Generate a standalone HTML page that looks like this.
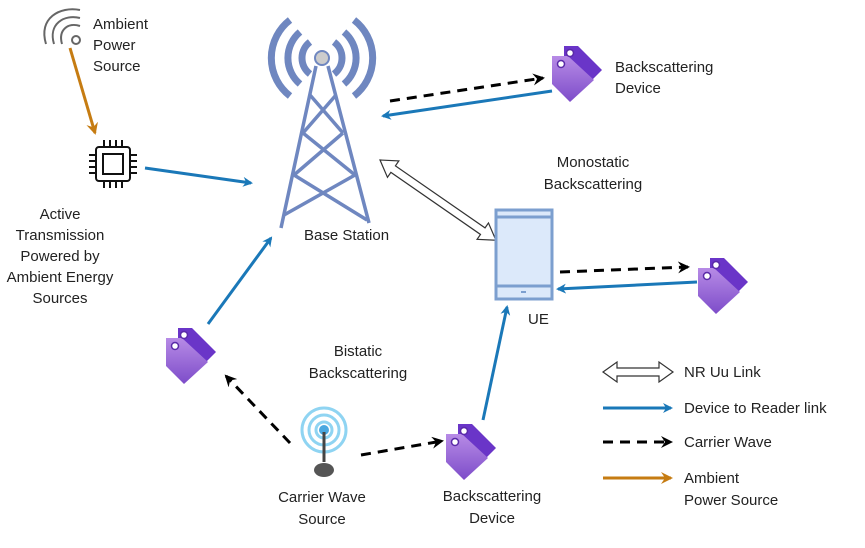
<!DOCTYPE html>
<html><head><meta charset="utf-8"><style>
body{margin:0;background:#fff}
svg{display:block}
text{font-family:"Liberation Sans",Arial,sans-serif;font-size:15px;fill:#222}
</style></head><body>
<svg width="865" height="548" viewBox="0 0 865 548">
<defs>
<marker id="b" markerWidth="10" markerHeight="10" refX="8" refY="5" orient="auto" markerUnits="userSpaceOnUse"><path d="M0,0 L10,5 L0,10 L3,5z" fill="#1a78b8"/></marker>
<marker id="k" markerWidth="12" markerHeight="12" refX="10" refY="6" orient="auto" markerUnits="userSpaceOnUse"><path d="M0,0 L12,6 L0,12 L4,6z" fill="#000"/></marker>
<marker id="o" markerWidth="12" markerHeight="12" refX="10" refY="6" orient="auto" markerUnits="userSpaceOnUse"><path d="M0,0 L12,6 L0,12 L4,6z" fill="#c67c12"/></marker>
<linearGradient id="tg" x1="0" y1="0" x2="0" y2="1"><stop offset="0" stop-color="#b78be6"/><stop offset="1" stop-color="#7d4cc9"/></linearGradient>
<g id="tag">
<path d="M-12,-24 L2,-24 L26,0 L4,22 L-12,6 Z" fill="#6a35c8"/>
<path d="M-24,-14 L-8,-14 L18,10 L-6,32 L-24,14 Z" fill="url(#tg)"/>
<circle cx="-6" cy="-17" r="3.5" fill="#fff" stroke="#5a2aa8" stroke-width="1.5"/>
<circle cx="-15" cy="-6" r="3.5" fill="#fff" stroke="#5a2aa8" stroke-width="1.5"/>
</g>
</defs>

<!-- ambient power icon -->
<g fill="none" stroke="#666" stroke-width="2">
<circle cx="76" cy="40" r="4"/>
<path d="M62,44 C58,30 68,22 80,26"/>
<path d="M54,44 C48,24 64,14 80,18"/>
<path d="M46,44 C38,18 60,6 80,10"/>
</g>
<text x="93" y="29">Ambient</text><text x="93" y="50">Power</text><text x="93" y="71">Source</text>
<line x1="70" y1="48" x2="95" y2="133" stroke="#c67c12" stroke-width="3" marker-end="url(#o)"/>

<!-- chip -->
<g stroke="#111" stroke-width="2" fill="none">
<rect x="96" y="147" width="34" height="34" rx="3"/>
<rect x="103" y="154" width="20" height="20"/>
<path d="M104,140v7M110,140v7M116,140v7M122,140v7M104,181v7M110,181v7M116,181v7M122,181v7M89,155h7M89,161h7M89,167h7M89,173h7M130,155h7M130,161h7M130,167h7M130,173h7"/>
</g>
<g text-anchor="middle"><text x="60" y="219">Active</text><text x="60" y="240">Transmission</text><text x="60" y="261">Powered by</text><text x="60" y="282">Ambient Energy</text><text x="60" y="303">Sources</text></g>
<line x1="145" y1="168" x2="251" y2="183" stroke="#1a78b8" stroke-width="3" marker-end="url(#b)"/>

<!-- tower -->
<g fill="none" stroke="#6f87c0" stroke-width="3.5">
<path d="M316,66 L281,228 M328,66 L369,223"/>
<path d="M310,95 L343,133 M336,95 L303,133 M303,133 L355,175 M343,133 L294,175 M294,175 L367,220 M355,175 L284,215"/>
</g>
<g fill="none" stroke="#6f87c0" stroke-width="7">
<path d="M310,42 A20,20 0 0 0 310,74 M334,42 A20,20 0 0 1 334,74"/>
<path d="M300,32 A34,34 0 0 0 300,84 M344,32 A34,34 0 0 1 344,84"/>
<path d="M290,20 A48,48 0 0 0 290,96 M354,20 A48,48 0 0 1 354,96"/>
</g>
<circle cx="322" cy="58" r="7" fill="#ccc" stroke="#6f87c0" stroke-width="2"/>
<text x="304" y="240">Base Station</text>

<!-- top-right tag -->
<use href="#tag" x="576" y="70"/>
<text x="615" y="72">Backscattering</text><text x="615" y="93">Device</text>
<line x1="390" y1="101" x2="543" y2="78" stroke="#000" stroke-width="3" stroke-dasharray="10,7" marker-end="url(#k)"/>
<line x1="552" y1="91" x2="383" y2="116" stroke="#1a78b8" stroke-width="3" marker-end="url(#b)"/>

<!-- hollow double arrow -->
<g transform="translate(380,160) rotate(34.7)">
<path d="M0,0 L16,-10 L16,-4 L125,-4 L125,-10 L141,0 L125,10 L125,4 L16,4 L16,10 Z" fill="#fff" stroke="#333" stroke-width="1.2"/>
</g>
<text x="593" y="167" text-anchor="middle">Monostatic</text><text x="593" y="189" text-anchor="middle">Backscattering</text>

<!-- UE -->
<rect x="496" y="210" width="56" height="89" fill="#dce9fa" stroke="#7c9fcf" stroke-width="3"/>
<line x1="496" y1="217" x2="552" y2="217" stroke="#7c9fcf" stroke-width="3"/>
<line x1="496" y1="286" x2="552" y2="286" stroke="#7c9fcf" stroke-width="3"/>
<rect x="521" y="291" width="5" height="2" fill="#7c9fcf"/>
<text x="528" y="324">UE</text>

<use href="#tag" x="722" y="282"/>
<line x1="560" y1="272" x2="688" y2="267" stroke="#000" stroke-width="3" stroke-dasharray="10,7" marker-end="url(#k)"/>
<line x1="697" y1="282" x2="558" y2="289" stroke="#1a78b8" stroke-width="3" marker-end="url(#b)"/>

<!-- bistatic -->
<use href="#tag" x="190" y="352"/>
<text x="358" y="356" text-anchor="middle">Bistatic</text><text x="358" y="378" text-anchor="middle">Backscattering</text>
<line x1="208" y1="324" x2="271" y2="238" stroke="#1a78b8" stroke-width="3" marker-end="url(#b)"/>
<line x1="290" y1="443" x2="226" y2="376" stroke="#000" stroke-width="3" stroke-dasharray="10,7" marker-end="url(#k)"/>
<line x1="361" y1="455" x2="442" y2="441" stroke="#000" stroke-width="3" stroke-dasharray="10,7" marker-end="url(#k)"/>
<use href="#tag" x="470" y="448"/>
<line x1="483" y1="420" x2="507" y2="307" stroke="#1a78b8" stroke-width="3" marker-end="url(#b)"/>
<text x="492" y="501" text-anchor="middle">Backscattering</text><text x="492" y="523" text-anchor="middle">Device</text>

<!-- carrier wave source -->
<g fill="none" stroke="#8fd4f2" stroke-width="3">
<circle cx="324" cy="430" r="8"/><circle cx="324" cy="430" r="15"/><circle cx="324" cy="430" r="22"/>
</g>
<circle cx="324" cy="430" r="5" fill="#4aa8e0"/>
<line x1="324" y1="432" x2="324" y2="462" stroke="#444" stroke-width="3"/>
<ellipse cx="324" cy="470" rx="10" ry="7" fill="#555"/>
<text x="322" y="502" text-anchor="middle">Carrier Wave</text><text x="322" y="524" text-anchor="middle">Source</text>

<!-- legend -->
<path d="M603,372 L617,362 L617,368 L659,368 L659,362 L673,372 L659,382 L659,376 L617,376 L617,382 Z" fill="#fff" stroke="#333" stroke-width="1.2"/>
<text x="684" y="377">NR Uu Link</text>
<line x1="603" y1="408" x2="671" y2="408" stroke="#1a78b8" stroke-width="3" marker-end="url(#b)"/>
<text x="684" y="413">Device to Reader link</text>
<line x1="603" y1="442" x2="671" y2="442" stroke="#000" stroke-width="3" stroke-dasharray="10,7" marker-end="url(#k)"/>
<text x="684" y="447">Carrier Wave</text>
<line x1="603" y1="478" x2="671" y2="478" stroke="#c67c12" stroke-width="3" marker-end="url(#o)"/>
<text x="684" y="483">Ambient</text><text x="684" y="505">Power Source</text>
</svg>
</body></html>
